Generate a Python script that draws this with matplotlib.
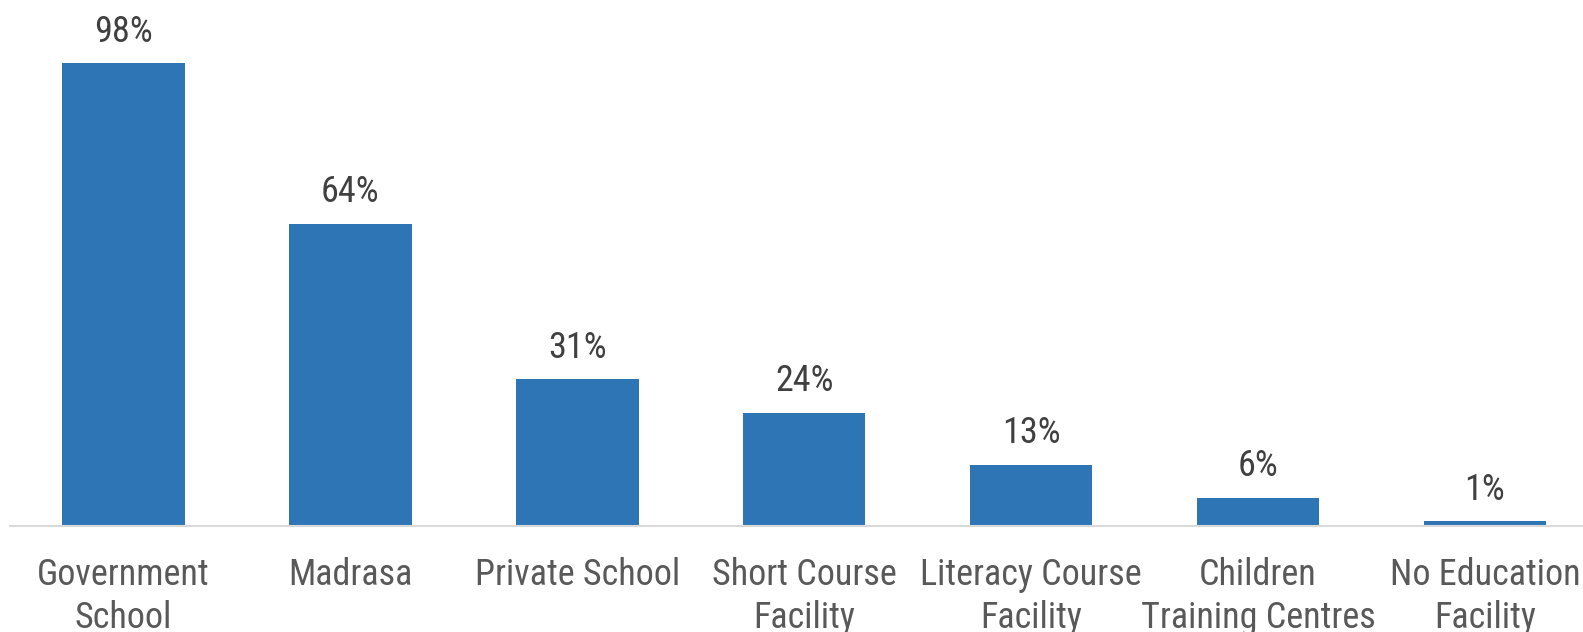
import matplotlib
matplotlib.use('Agg')
import matplotlib.pyplot as plt
from matplotlib import font_manager

categories = ['Government\nSchool', 'Madrasa', 'Private School', 'Short Course\nFacility',
              'Literacy Course\nFacility', 'Children\nTraining Centres', 'No Education\nFacility']
values = [98, 64, 31, 24, 13, 6, 1]

# pick a narrow sans face, closest to Arial Narrow first
names = {f.name for f in font_manager.fontManager.ttflist}
family = 'Liberation Sans'
for cand in ['Liberation Sans Narrow', 'Arial Narrow', 'Arimo Narrow', 'Roboto Condensed',
             'PT Sans Narrow', 'Archivo Narrow', 'Open Sans Condensed']:
    if cand in names:
        family = cand
        break
plt.rcParams['font.family'] = [family, 'DejaVu Sans']

W, H = 1583, 632
fig = plt.figure(figsize=(W / 100, H / 100), dpi=100)

# axes runs slightly past the right edge, so the last category is cut off
spacing = 226.9
left = 10
ax = fig.add_axes([left / W, 106 / H, 7 * spacing / W, (H - 106) / H])

x = list(range(len(categories)))
bars = ax.bar(x, values, width=0.54, color='#2E75B6', zorder=2)
ax.set_xlim(-0.5, 6.5)
ax.set_ylim(0, (H - 106) / 4.726)

for b, v in zip(bars, values):
    ax.annotate(f'{v}%', (b.get_x() + b.get_width() / 2, b.get_height()),
                xytext=(0, 9.5), textcoords='offset points', ha='center', va='bottom',
                fontsize=26, color='#404040')

ax.set_xticks(x)
ax.set_xticklabels(categories, fontsize=26, color='#595959', linespacing=1.25)
ax.tick_params(axis='x', length=0, pad=22)
ax.set_yticks([])
for s in ['top', 'right', 'left']:
    ax.spines[s].set_visible(False)
ax.spines['bottom'].set_color('#D9D9D9')
ax.spines['bottom'].set_linewidth(1.5)

fig.savefig('out.png', dpi=100)
